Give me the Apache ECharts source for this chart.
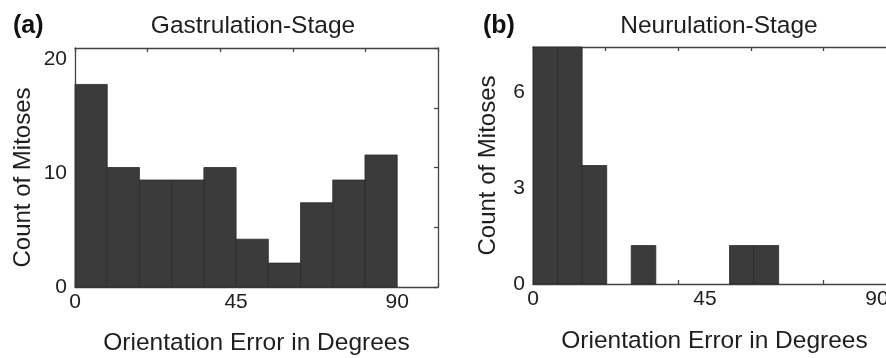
<!DOCTYPE html>
<html>
<head>
<meta charset="utf-8">
<script src="https://cdn.jsdelivr.net/npm/echarts@6/dist/echarts.min.js"></script>
<style>
html,body{margin:0;padding:0;background:#fff;}
#c{width:886px;height:358px;}
</style>
</head>
<body>
<div id="c"></div>
<script>
// ---- data (a) Gastrulation-Stage ----
const binEdgesA = [0, 9, 18, 27, 36, 45, 54, 63, 72, 81, 90];
const countsA = [17.8, 10.5, 9.4, 9.4, 10.5, 4.2, 2.1, 7.4, 9.4, 11.6];
const xTicksA = [0, 45, 90];
const yTicksA = [0, 10, 20];
// ---- data (b) Neurulation-Stage ----
const binEdgesB = [0, 6.43, 12.86, 19.29, 25.71, 32.14, 38.57, 45, 51.43, 57.86, 64.29, 70.71, 77.14, 83.57, 90];
const countsB = [7.4, 7.4, 3.7, 0, 1.2, 0, 0, 0, 1.2, 1.2, 0, 0, 0, 0];
const xTicksB = [0, 45, 90];
const yTicksB = [0, 3, 6];
const titles = ['Gastrulation-Stage', 'Neurulation-Stage'];
const panelTags = ['(a)', '(b)'];
const xName = 'Orientation Error in Degrees';
const yName = 'Count of Mitoses';

function toBins(edges, counts) {
  return counts.map((c, i) => [edges[i], edges[i + 1], c]);
}

const FONT = '"Liberation Sans", Arial, Helvetica, sans-serif';
const TXT = '#1e1e1e';
const AX = '#444444';
const BAR = '#3b3b3b';

function renderItem(params, api) {
  const v = api.value(2);
  if (!v) return null;
  const p0 = api.coord([api.value(0), v]);
  const p1 = api.coord([api.value(1), 0]);
  return {
    type: 'rect',
    shape: { x: p0[0], y: p0[1], width: p1[0] - p0[0], height: p1[1] - p0[1] },
    style: { fill: BAR, stroke: '#2a2a2a', lineWidth: 0.8 }
  };
}

function primaryX(grid, max, ticks, gap) {
  return {
    type: 'value', gridIndex: grid, min: 0, max: max, interval: 45, position: 'bottom',
    axisLine: { show: true, onZero: false, lineStyle: { color: AX, width: 1.3 } },
    axisTick: { show: false },
    splitLine: { show: false },
    axisLabel: { customValues: ticks, fontSize: 21, color: TXT, fontFamily: FONT, margin: 5 },
    name: xName, nameLocation: 'middle', nameGap: gap,
    nameTextStyle: { fontSize: 24.5, color: TXT, fontFamily: FONT }
  };
}
function secX(grid, pos, showLine) {
  return {
    type: 'value', gridIndex: grid, min: 0, max: 5, interval: 1, position: pos,
    axisLine: { show: showLine, onZero: false, lineStyle: { color: AX, width: 1.3 } },
    axisTick: { show: true, inside: true, length: 4, lineStyle: { color: AX, width: 1.3 } },
    axisLabel: { show: false }, splitLine: { show: false }
  };
}
function primaryY(grid, max, interval, ticks, gap, pad) {
  return {
    type: 'value', gridIndex: grid, min: 0, max: max, interval: interval, position: 'left',
    axisLine: { show: true, onZero: false, lineStyle: { color: AX, width: 1.3 } },
    axisTick: { show: false },
    splitLine: { show: false },
    axisLabel: { customValues: ticks, fontSize: 21, color: TXT, fontFamily: FONT, margin: 8 },
    name: yName, nameLocation: 'middle', nameGap: gap,
    nameTextStyle: { fontSize: 24, color: TXT, fontFamily: FONT, padding: pad }
  };
}
function secY(grid) {
  return {
    type: 'value', gridIndex: grid, min: 0, max: 4, interval: 1, position: 'right',
    axisLine: { show: true, onZero: false, lineStyle: { color: AX, width: 1.3 } },
    axisTick: { show: true, inside: true, length: 4, lineStyle: { color: AX, width: 1.3 } },
    axisLabel: { show: false }, splitLine: { show: false }
  };
}

const chart = echarts.init(document.getElementById('c'), null, { renderer: 'canvas' });
chart.setOption({
  backgroundColor: '#ffffff',
  animation: false,
  textStyle: { fontFamily: FONT },
  title: [
    { text: panelTags[0], left: 8, top: 9, textStyle: { fontSize: 25, fontWeight: 'bold', color: '#111', fontFamily: FONT } },
    { text: titles[0], left: 248, top: 9, textAlign: 'center', textStyle: { fontSize: 24.5, fontWeight: 'normal', color: TXT, fontFamily: FONT } },
    { text: panelTags[1], left: 478, top: 9, textStyle: { fontSize: 25, fontWeight: 'bold', color: '#111', fontFamily: FONT } },
    { text: titles[1], left: 714, top: 9, textAlign: 'center', textStyle: { fontSize: 24.5, fontWeight: 'normal', color: TXT, fontFamily: FONT } }
  ],
  grid: [
    { left: 75, top: 48, width: 363, height: 239, outerBoundsMode: 'none', containLabel: false },
    { left: 533, top: 47, width: 363, height: 237, outerBoundsMode: 'none', containLabel: false }
  ],
  xAxis: [
    primaryX(0, 101.4, xTicksA, 44),
    secX(0, 'top', true),
    secX(0, 'bottom', false),
    primaryX(1, 95, xTicksB, 45),
    secX(1, 'top', true),
    secX(1, 'bottom', false)
  ],
  yAxis: [
    primaryY(0, 21, 10, yTicksA, 40, [0, 20, 0, 0]),
    secY(0),
    primaryY(1, 7.4, 3, yTicksB, 33, [0, 0, 0, 0]),
    secY(1)
  ],
  series: [
    { type: 'custom', xAxisIndex: 0, yAxisIndex: 0, renderItem: renderItem,
      encode: { x: [0, 1], y: 2 }, data: toBins(binEdgesA, countsA), z: 3 },
    { type: 'custom', xAxisIndex: 3, yAxisIndex: 2, renderItem: renderItem,
      encode: { x: [0, 1], y: 2 }, data: toBins(binEdgesB, countsB), z: 3 }
  ]
});
</script>
</body>
</html>
